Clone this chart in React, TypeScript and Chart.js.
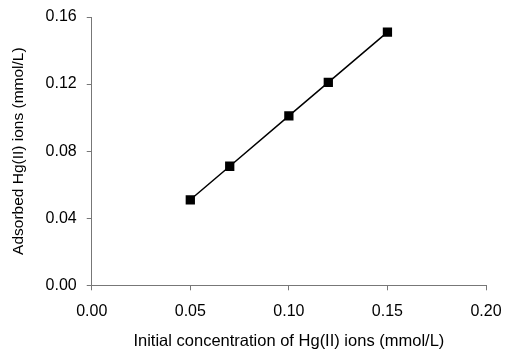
import React, { useEffect, useRef } from "react";
import { Chart, registerables } from "chart.js";

Chart.register(...registerables);

const xValues = [0.05, 0.07, 0.1, 0.12, 0.15];
const yValues = [0.051, 0.071, 0.101, 0.121, 0.151];
const xTitle = "Initial concentration of Hg(II) ions (mmol/L)";
const yTitle = "Adsorbed Hg(II) ions (mmol/L)";

export default function App() {
  const ref = useRef<HTMLCanvasElement>(null);
  useEffect(() => {
    if (!ref.current) return;
    const font = "'Liberation Sans', Arial, sans-serif";
    const chart = new Chart(ref.current, {
      type: "scatter",
      data: {
        datasets: [
          {
            data: xValues.map((x, i) => ({ x, y: yValues[i] })),
            showLine: true,
            borderColor: "#000",
            backgroundColor: "#000",
            borderWidth: 1.5,
            pointStyle: "rect",
            pointRadius: 5.5,
            pointHoverRadius: 5.5,
          },
        ],
      },
      options: {
        animation: false,
        responsive: false,
        maintainAspectRatio: false,
        layout: { padding: { left: 9, right: 0, top: 0, bottom: 0 } },
        plugins: { legend: { display: false }, tooltip: { enabled: false } },
        scales: {
          x: {
            type: "linear",
            min: 0,
            max: 0.2,
            afterFit: (scale: any) => {
              scale.paddingRight = 21;
            },
            ticks: {
              stepSize: 0.05,
              color: "#000",
              font: { family: font, size: 16 },
              padding: 12,
              callback: (v: any) => Number(v).toFixed(2),
            },
            grid: {
              drawOnChartArea: false,
              drawTicks: true,
              tickLength: 5,
              color: "#777",
            },
            border: { display: true, color: "#777", width: 1 },
            title: {
              display: true,
              text: xTitle,
              color: "#000",
              font: { family: font, size: 16.5, lineHeight: 1 },
              padding: { top: 0, bottom: 0 },
            },
          },
          y: {
            type: "linear",
            min: 0,
            max: 0.16,
            afterFit: (scale: any) => {
              scale.paddingTop = 17;
            },
            ticks: {
              stepSize: 0.04,
              color: "#000",
              font: { family: font, size: 16 },
              padding: 10,
              callback: (v: any) => Number(v).toFixed(2),
            },
            grid: {
              drawOnChartArea: false,
              drawTicks: true,
              tickLength: 5,
              color: "#777",
            },
            border: { display: true, color: "#777", width: 1 },
            title: {
              display: true,
              text: yTitle,
              color: "#000",
              font: { family: font, size: 15.5 },
              padding: { top: 0, bottom: 8 },
            },
          },
        },
      },
    });
    return () => chart.destroy();
  }, []);
  return (
    <div style={{ position: "absolute", left: 0, top: 0, width: 507, height: 350, background: "#fff" }}>
      <canvas ref={ref} width={507} height={350} style={{ width: 507, height: 350 }} />
    </div>
  );
}
